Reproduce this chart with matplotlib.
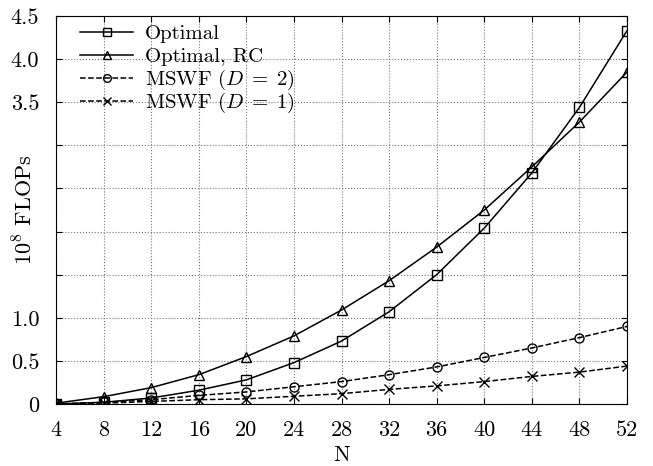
import matplotlib
matplotlib.use("Agg")
import matplotlib.pyplot as plt

# Data
n_values = [4, 8, 12, 16, 20, 24, 28, 32, 36, 40, 44, 48, 52]
optimal = [0.0, 0.02, 0.07, 0.16, 0.28, 0.48, 0.73, 1.07, 1.50, 2.04, 2.68, 3.44, 4.33]
optimal_rc = [0.01, 0.085, 0.19, 0.34, 0.55, 0.79, 1.09, 1.43, 1.82, 2.25, 2.75, 3.27, 3.85]
mswf_d2 = [0.0, 0.02, 0.05, 0.10, 0.14, 0.20, 0.26, 0.34, 0.43, 0.54, 0.65, 0.77, 0.90]
mswf_d1 = [0.0, 0.01, 0.03, 0.05, 0.06, 0.09, 0.12, 0.17, 0.21, 0.26, 0.32, 0.37, 0.44]

y_ticks = [0, 0.5, 1.0, 1.5, 2.0, 2.5, 3.0, 3.5, 4.0, 4.5]
y_tick_labels = ["0", "0.5", "1.0", "", "", "", "", "3.5", "4.0", "4.5"]

plt.rcParams["font.family"] = "serif"
plt.rcParams["font.serif"] = ["cmr10", "DejaVu Serif"]
plt.rcParams["mathtext.fontset"] = "cm"
plt.rcParams["axes.unicode_minus"] = False

fig = plt.figure(figsize=(6.53, 4.66), dpi=100)
ax = fig.add_axes([0.0858, 0.133, 0.8744, 0.8327])

lines = []
lines += ax.plot(n_values, optimal, "k-", marker="s", markersize=7,
                 markerfacecolor="none", linewidth=1.1, label="Optimal")
lines += ax.plot(n_values, optimal_rc, "k-", marker="^", markersize=7.5,
                 markerfacecolor="none", linewidth=1.1, label="Optimal, RC")
lines += ax.plot(n_values, mswf_d2, "k--", marker="o", markersize=6.5,
                 markerfacecolor="none", linewidth=1.1, label=r"MSWF ($D\;=\;2$)")
lines += ax.plot(n_values, mswf_d1, "k--", marker="x", markersize=6.5,
                 linewidth=1.1, label=r"MSWF ($D\;=\;1$)")

ax.set_xlim(4, 52)
ax.set_ylim(0, 4.5)
ax.set_xticks(n_values)
ax.set_yticks(y_ticks)
ax.set_yticklabels(y_tick_labels)
ax.tick_params(direction="in", top=True, right=True, labelsize=16, length=4)
ax.tick_params(axis="x", pad=12)
ax.tick_params(axis="y", pad=12)
ax.grid(True, linestyle=":", color="#777777", linewidth=0.8)

ax.set_xlabel("N", fontsize=16, labelpad=4)
ax.set_ylabel("$10^8$ FLOPs", fontsize=16)
ax.yaxis.set_label_coords(-0.035, 0.5)

# Legend drawn by hand so the rows keep an even pitch
row_top = 0.958
row_step = 0.059
for i, ln in enumerate(lines):
    y = row_top - i * row_step
    ax.plot([0.042, 0.135], [y, y], transform=ax.transAxes, color="k",
            linestyle=ln.get_linestyle(), linewidth=1.1, clip_on=False)
    ax.plot([0.0885], [y], transform=ax.transAxes, color="k",
            marker=ln.get_marker(), markersize=ln.get_markersize() * 0.85,
            markerfacecolor=ln.get_markerfacecolor(), clip_on=False)
    ax.text(0.156, y - 0.018, ln.get_label(), transform=ax.transAxes,
            fontsize=15, va="baseline", ha="left")

fig.savefig("out.png", dpi=100)
